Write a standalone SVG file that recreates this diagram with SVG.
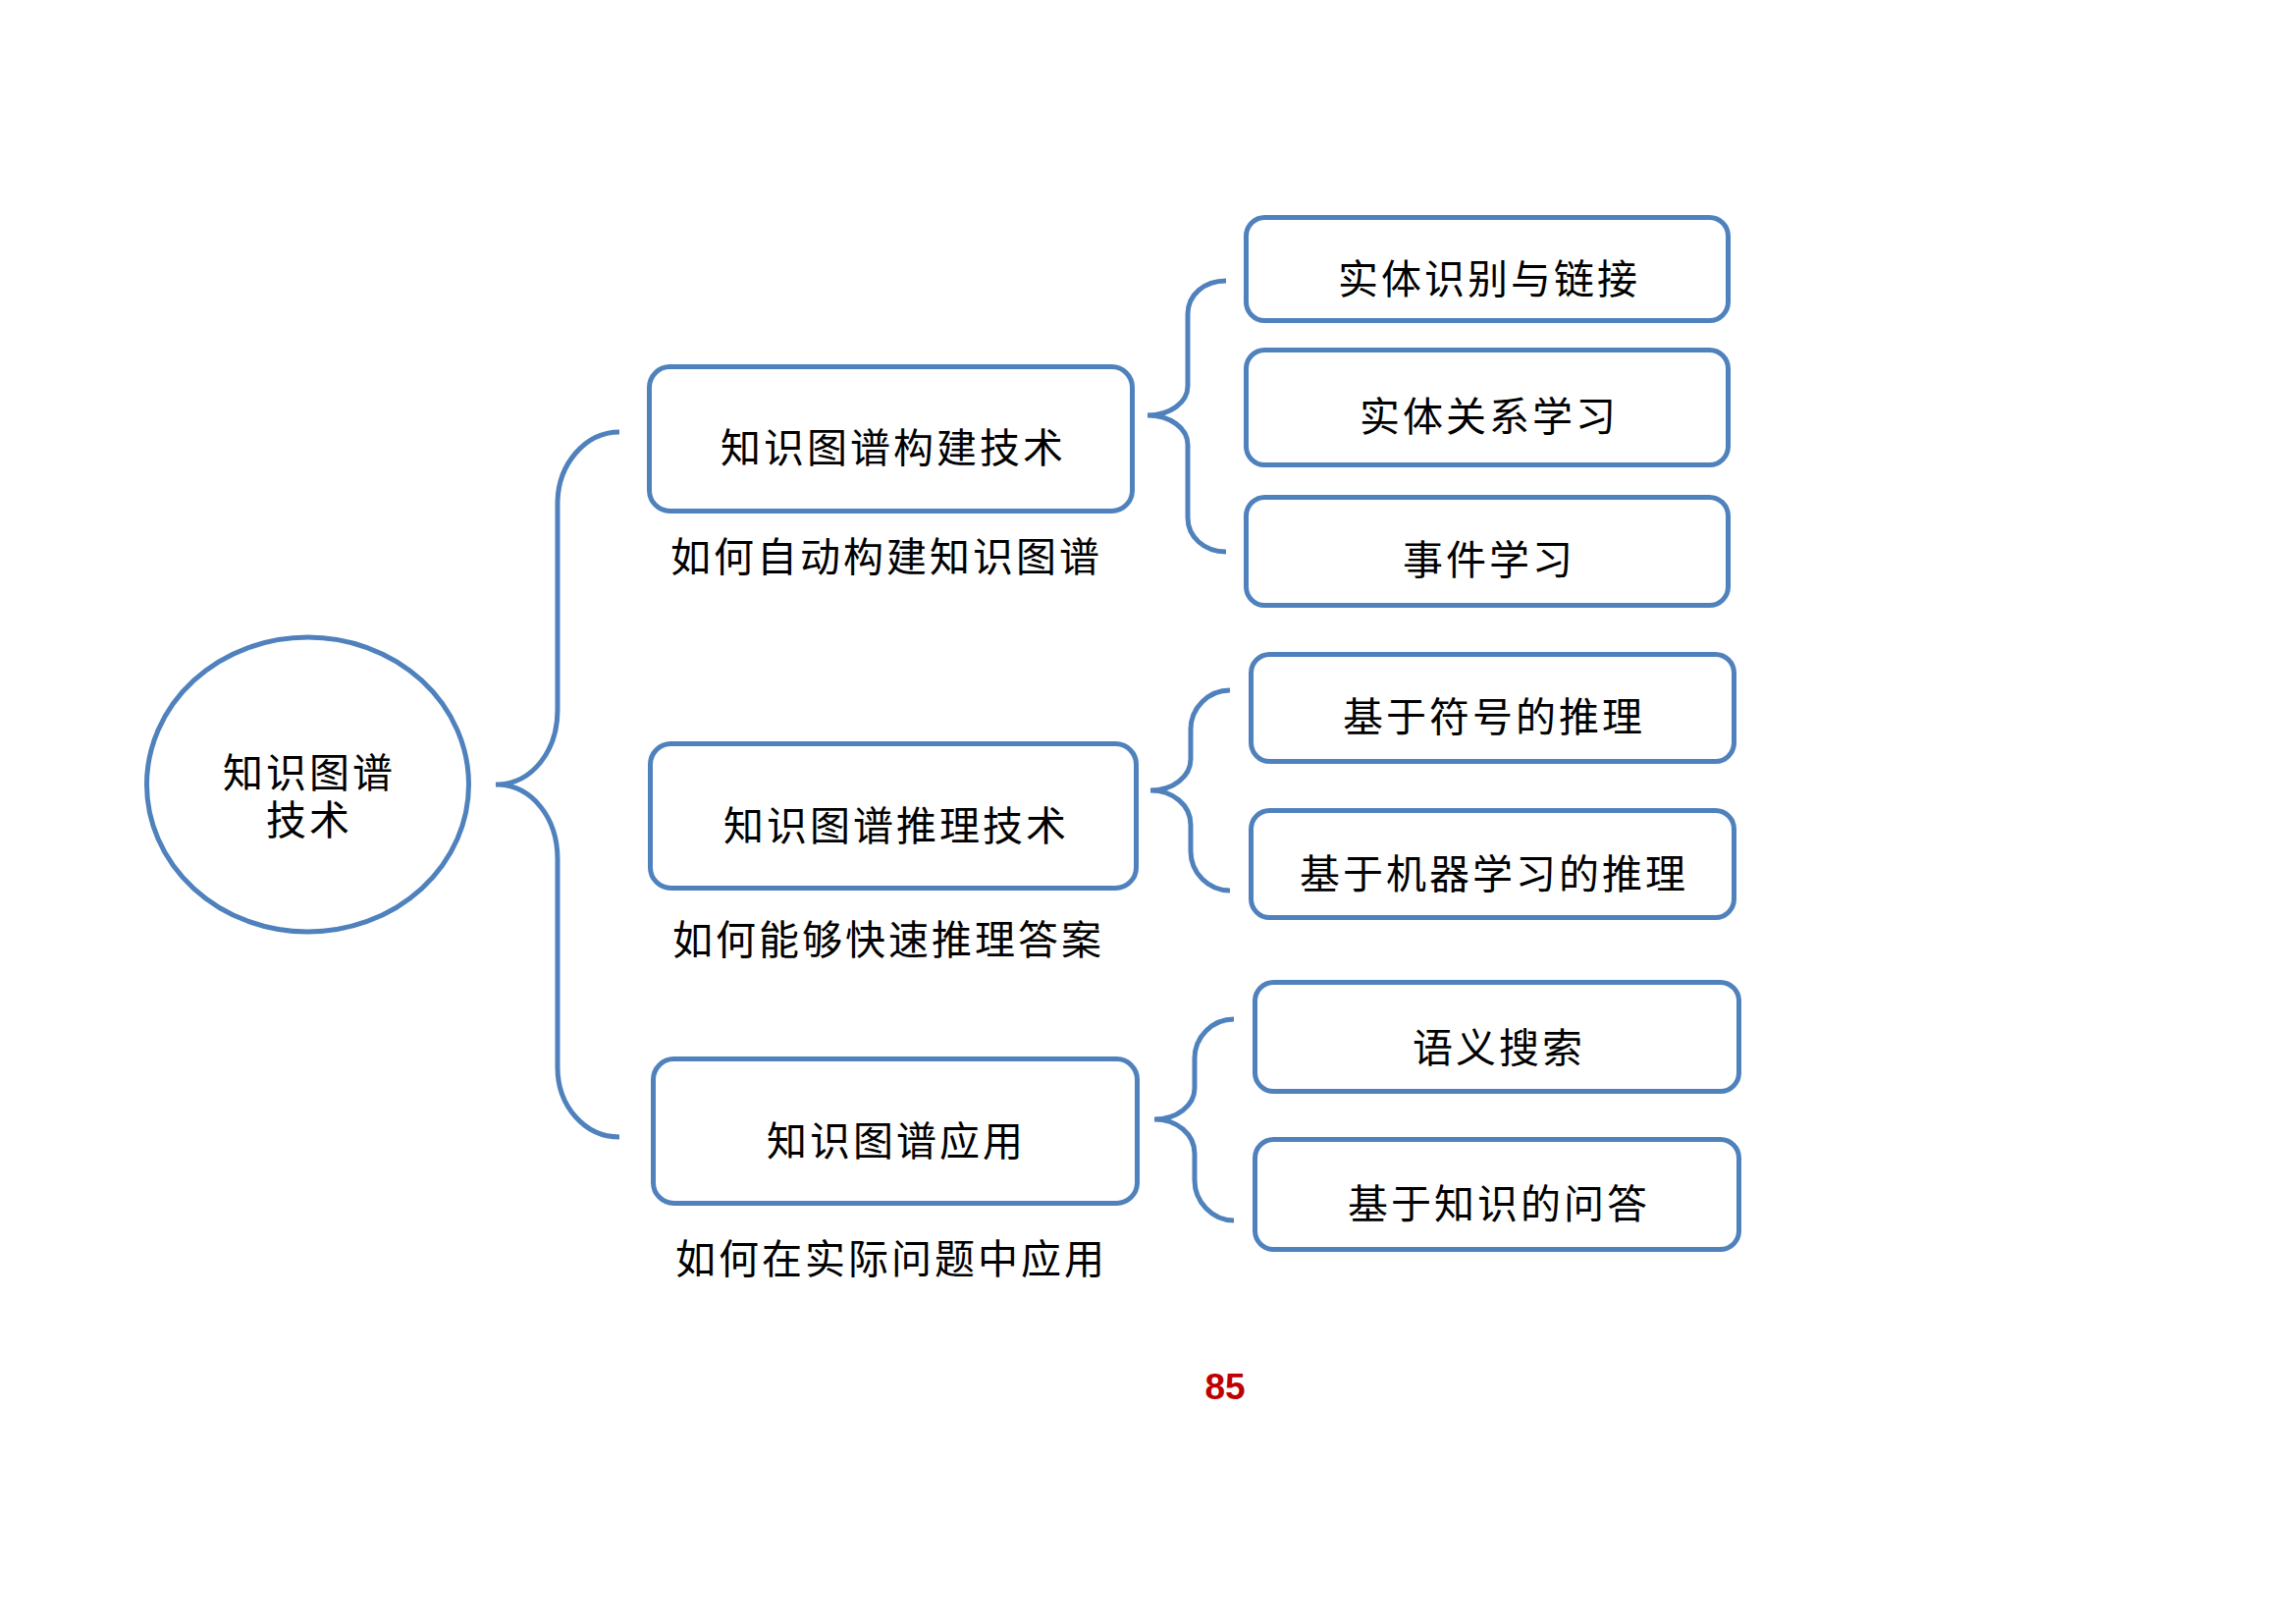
<svg xmlns="http://www.w3.org/2000/svg" width="2339" height="1654" viewBox="0 0 2339 1654">
  <style>
    .shape { fill: #FFFFFF; stroke: #4F81BD; stroke-width: 5; }
    .conn { fill: none; stroke: #4F81BD; stroke-width: 5; stroke-linecap: butt; }
    .t { font-family: "Noto Sans CJK SC", "Noto Sans", sans-serif; font-size: 41px; letter-spacing: 3px; fill: #000000; text-anchor: middle; dominant-baseline: central; }
    .num { font-family: "Liberation Sans", Arial, sans-serif; font-size: 37px; font-weight: bold; fill: #C00000; text-anchor: middle; }
  </style>
  <rect x="0" y="0" width="2339" height="1654" fill="#FFFFFF"/>

  <g id="connectors">
    <path class="conn" d="M631,440 C596,440 568,473 568,513 L568,723 C568,765 542,799 505,799 C542,799 568,833 568,875 L568,1087 C568,1127 596,1158 631,1158"/>
    <path class="conn" d="M1249,286 C1227,286 1210,300 1210,320 L1210,393 C1210,410 1192,423 1169,423 C1192,423 1210,436 1210,453 L1210,527 C1210,547 1227,562 1249,562"/>
    <path class="conn" d="M1253,703 C1231,703 1213,721 1213,743 L1213,773 C1213,791 1195,805 1172,805 C1195,805 1213,820 1213,840 L1213,867 C1213,889 1231,907 1253,907"/>
    <path class="conn" d="M1257,1038 C1235,1038 1217,1056 1217,1078 L1217,1108 C1217,1126 1199,1140 1176,1140 C1199,1140 1217,1155 1217,1175 L1217,1202 C1217,1224 1235,1243 1257,1243"/>
  </g>

  <g id="root">
    <ellipse class="shape" cx="313.5" cy="799" rx="164" ry="150"/>
    <text class="t" x="315" y="784"><tspan x="315" y="784">知识图谱</tspan><tspan x="315" y="832">技术</tspan></text>
  </g>

  <g id="build">
    <rect class="shape" x="661.5" y="373.5" width="492" height="147" rx="21" ry="21"/>
    <text class="t" x="910" y="453">知识图谱构建技术</text>
    <text class="t" x="903" y="564">如何自动构建知识图谱</text>
  </g>

  <g id="reason">
    <rect class="shape" x="662.5" y="757.5" width="495" height="147" rx="21" ry="21"/>
    <text class="t" x="913" y="838">知识图谱推理技术</text>
    <text class="t" x="905" y="954">如何能够快速推理答案</text>
  </g>

  <g id="apply">
    <rect class="shape" x="665.5" y="1078.5" width="493" height="147" rx="21" ry="21"/>
    <text class="t" x="913" y="1159">知识图谱应用</text>
    <text class="t" x="908" y="1279">如何在实际问题中应用</text>
  </g>

  <g id="entity-link">
    <rect class="shape" x="1269.5" y="221.5" width="491" height="105" rx="19" ry="19"/>
    <text class="t" x="1517" y="281">实体识别与链接</text>
  </g>
  <g id="entity-relation">
    <rect class="shape" x="1269.5" y="356.5" width="491" height="117" rx="19" ry="19"/>
    <text class="t" x="1517" y="421">实体关系学习</text>
  </g>
  <g id="event">
    <rect class="shape" x="1269.5" y="506.5" width="491" height="110" rx="19" ry="19"/>
    <text class="t" x="1517" y="567">事件学习</text>
  </g>

  <g id="symbolic">
    <rect class="shape" x="1274.5" y="666.5" width="492" height="109" rx="19" ry="19"/>
    <text class="t" x="1522" y="727">基于符号的推理</text>
  </g>
  <g id="ml">
    <rect class="shape" x="1274.5" y="825.5" width="492" height="109" rx="19" ry="19"/>
    <text class="t" x="1522" y="887">基于机器学习的推理</text>
  </g>

  <g id="search">
    <rect class="shape" x="1278.5" y="1000.5" width="493" height="111" rx="19" ry="19"/>
    <text class="t" x="1527" y="1064">语义搜索</text>
  </g>
  <g id="qa">
    <rect class="shape" x="1278.5" y="1160.5" width="493" height="112" rx="19" ry="19"/>
    <text class="t" x="1527" y="1223">基于知识的问答</text>
  </g>

  <text class="num" x="1248" y="1425">85</text>
</svg>
